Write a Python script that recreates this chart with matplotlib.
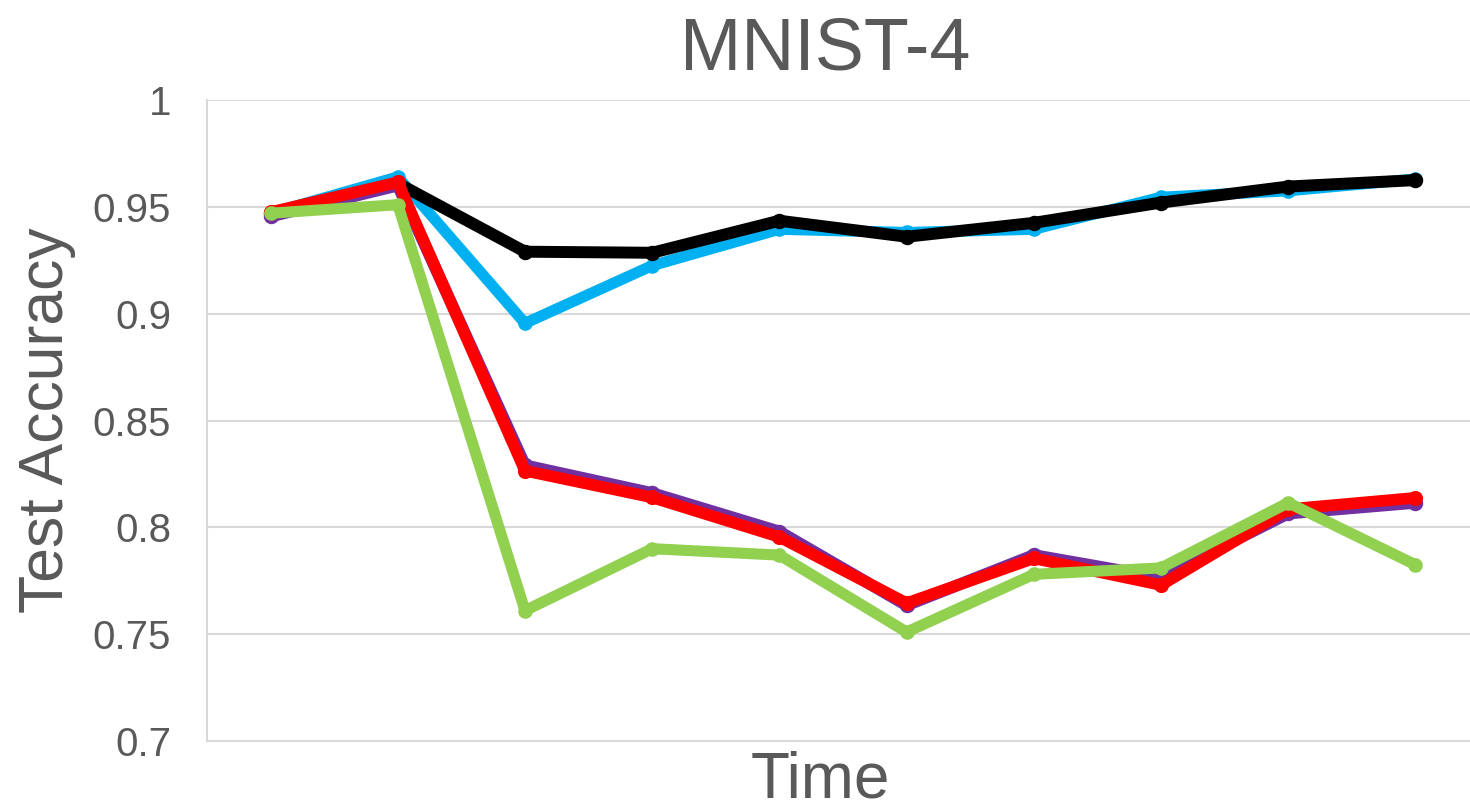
import matplotlib
matplotlib.use("Agg")
import matplotlib.pyplot as plt

# test accuracy per time step
steps = list(range(10))
acc_blue = [0.947, 0.964, 0.8955, 0.9225, 0.9395, 0.938, 0.9395, 0.9545, 0.9575, 0.963]
acc_black = [0.947, 0.961, 0.929, 0.9285, 0.9435, 0.936, 0.9425, 0.952, 0.9595, 0.9625]
acc_purple = [0.9455, 0.960, 0.829, 0.816, 0.798, 0.7635, 0.787, 0.7765, 0.8065, 0.8115]
acc_red = [0.9475, 0.9615, 0.8265, 0.814, 0.7955, 0.7645, 0.7855, 0.773, 0.8085, 0.8138]
acc_green = [0.947, 0.951, 0.761, 0.790, 0.787, 0.751, 0.778, 0.781, 0.8115, 0.7825]

yticks = [0.7, 0.75, 0.8, 0.85, 0.9, 0.95, 1.0]
ytick_labels = ["0.7", "0.75", "0.8", "0.85", "0.9", "0.95", "1"]

TXT = "#595959"
GRID = "#D9D9D9"

plt.rcParams["font.family"] = ["Liberation Sans", "DejaVu Sans"]

fig = plt.figure(figsize=(14.7, 8.1), dpi=100)
ax = fig.add_axes([207 / 1470, 1 - 741 / 810, (1479 - 207) / 1470, (741 - 100) / 810])

series = [
    (acc_blue, "#00B0F0", 8.0),
    (acc_black, "#000000", 8.6),
    (acc_purple, "#7030A0", 8.6),
    (acc_red, "#FF0000", 8.4),
    (acc_green, "#92D050", 8.0),
]
for vals, col, lw in series:
    ax.plot(steps, vals, color=col, lw=lw, marker="o", ms=lw + 1.5,
            solid_joinstyle="round", solid_capstyle="round", clip_on=False)

ax.set_xlim(-0.5, 9.5)
ax.set_ylim(0.7, 1.0)
ax.set_yticks(yticks)
ax.set_yticklabels(ytick_labels)
ax.set_xticks([])
ax.yaxis.grid(True, color=GRID, lw=1.5)
ax.set_axisbelow(True)
ax.tick_params(axis="y", length=0, pad=26, labelsize=29, labelcolor=TXT)

for s in ("top", "right"):
    ax.spines[s].set_visible(False)
for s in ("left", "bottom"):
    ax.spines[s].set_color(GRID)
    ax.spines[s].set_linewidth(1.5)

fig.text(825 / 1470, 1 - 69 / 810, "MNIST-4", fontsize=53, color=TXT,
         ha="center", va="baseline")
fig.text(820 / 1470, 1 - 797 / 810, "Time", fontsize=46, color=TXT,
         ha="center", va="baseline")
fig.text(47 / 1470, 1 - 420 / 810, "Test Accuracy", fontsize=45, color=TXT,
         ha="center", va="center", rotation=90)

fig.savefig("out.png", dpi=100)
